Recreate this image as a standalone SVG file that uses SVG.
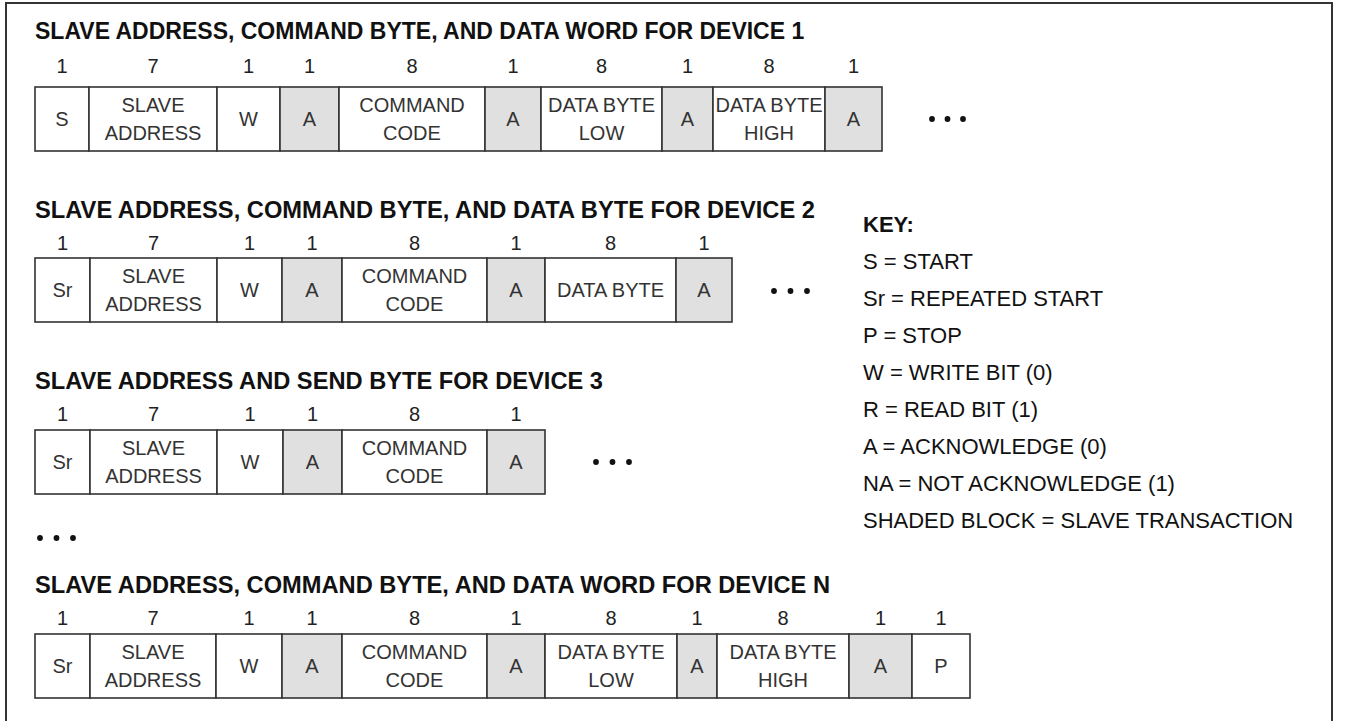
<svg xmlns="http://www.w3.org/2000/svg" width="1349" height="721" viewBox="0 0 1349 721">
<style>
.bg{fill:#ffffff}
.frame{fill:none;stroke:#333;stroke-width:2}
.cell{fill:#ffffff;stroke:#333;stroke-width:1.6}
.sh{fill:#e0e0e0;stroke:#333;stroke-width:1.6}
.t{font-family:"Liberation Sans",Arial,sans-serif;font-size:20px;fill:#333;text-anchor:middle}
.n{font-family:"Liberation Sans",Arial,sans-serif;font-size:20px;fill:#222;text-anchor:middle}
.h{font-family:"Liberation Sans",Arial,sans-serif;font-size:23px;font-weight:bold;fill:#111}
.k{font-family:"Liberation Sans",Arial,sans-serif;font-size:22px;fill:#111}
.kb{font-family:"Liberation Sans",Arial,sans-serif;font-size:22px;font-weight:bold;fill:#111}
.dot{fill:#111}
</style>
<rect class="bg" x="0" y="0" width="1349" height="721"/>
<path class="frame" d="M6,725 V3 H1332 V725"/>

<!-- Row 1 -->
<g id="row1">
<text class="h" x="35" y="39">SLAVE ADDRESS, COMMAND BYTE, AND DATA WORD FOR DEVICE 1</text>
<g id="r1-s"><rect class="cell" x="35" y="87" width="54" height="64"/><text class="n" x="62" y="73">1</text><text class="t" x="62" y="126">S</text></g>
<g id="r1-sa"><rect class="cell" x="89" y="87" width="128" height="64"/><text class="n" x="153" y="73">7</text><text class="t" x="153" y="112">SLAVE</text><text class="t" x="153" y="140">ADDRESS</text></g>
<g id="r1-w"><rect class="cell" x="217" y="87" width="63" height="64"/><text class="n" x="248.5" y="73">1</text><text class="t" x="248.5" y="126">W</text></g>
<g id="r1-a1"><rect class="sh" x="280" y="87" width="59" height="64"/><text class="n" x="309.5" y="73">1</text><text class="t" x="309.5" y="126">A</text></g>
<g id="r1-cc"><rect class="cell" x="339" y="87" width="146" height="64"/><text class="n" x="412" y="73">8</text><text class="t" x="412" y="112">COMMAND</text><text class="t" x="412" y="140">CODE</text></g>
<g id="r1-a2"><rect class="sh" x="485" y="87" width="56" height="64"/><text class="n" x="513" y="73">1</text><text class="t" x="513" y="126">A</text></g>
<g id="r1-dl"><rect class="cell" x="541" y="87" width="121" height="64"/><text class="n" x="601.5" y="73">8</text><text class="t" x="601.5" y="112">DATA BYTE</text><text class="t" x="601.5" y="140">LOW</text></g>
<g id="r1-a3"><rect class="sh" x="662" y="87" width="51" height="64"/><text class="n" x="687.5" y="73">1</text><text class="t" x="687.5" y="126">A</text></g>
<g id="r1-dh"><rect class="cell" x="713" y="87" width="112" height="64"/><text class="n" x="769" y="73">8</text><text class="t" x="769" y="112">DATA BYTE</text><text class="t" x="769" y="140">HIGH</text></g>
<g id="r1-a4"><rect class="sh" x="825" y="87" width="57" height="64"/><text class="n" x="853.5" y="73">1</text><text class="t" x="853.5" y="126">A</text></g>
<g id="r1-dots"><circle class="dot" cx="932" cy="119" r="2.9"/><circle class="dot" cx="947.5" cy="119" r="2.9"/><circle class="dot" cx="963" cy="119" r="2.9"/></g>
</g>

<!-- Row 2 -->
<g id="row2">
<text class="h" x="35" y="218" textLength="780" lengthAdjust="spacingAndGlyphs">SLAVE ADDRESS, COMMAND BYTE, AND DATA BYTE FOR DEVICE 2</text>
<g id="r2-sr"><rect class="cell" x="35" y="258" width="55" height="64"/><text class="n" x="62.5" y="250">1</text><text class="t" x="62.5" y="297">Sr</text></g>
<g id="r2-sa"><rect class="cell" x="90" y="258" width="127" height="64"/><text class="n" x="153.5" y="250">7</text><text class="t" x="153.5" y="283">SLAVE</text><text class="t" x="153.5" y="311">ADDRESS</text></g>
<g id="r2-w"><rect class="cell" x="217" y="258" width="65" height="64"/><text class="n" x="249.5" y="250">1</text><text class="t" x="249.5" y="297">W</text></g>
<g id="r2-a1"><rect class="sh" x="282" y="258" width="60" height="64"/><text class="n" x="312" y="250">1</text><text class="t" x="312" y="297">A</text></g>
<g id="r2-cc"><rect class="cell" x="342" y="258" width="145" height="64"/><text class="n" x="414.5" y="250">8</text><text class="t" x="414.5" y="283">COMMAND</text><text class="t" x="414.5" y="311">CODE</text></g>
<g id="r2-a2"><rect class="sh" x="487" y="258" width="58" height="64"/><text class="n" x="516" y="250">1</text><text class="t" x="516" y="297">A</text></g>
<g id="r2-db"><rect class="cell" x="545" y="258" width="131" height="64"/><text class="n" x="610.5" y="250">8</text><text class="t" x="610.5" y="297">DATA BYTE</text></g>
<g id="r2-a3"><rect class="sh" x="676" y="258" width="56" height="64"/><text class="n" x="704" y="250">1</text><text class="t" x="704" y="297">A</text></g>
<g id="r2-dots"><circle class="dot" cx="774" cy="291" r="2.9"/><circle class="dot" cx="790.5" cy="291" r="2.9"/><circle class="dot" cx="807" cy="291" r="2.9"/></g>
</g>

<!-- Row 3 -->
<g id="row3">
<text class="h" x="35" y="389" textLength="568" lengthAdjust="spacingAndGlyphs">SLAVE ADDRESS AND SEND BYTE FOR DEVICE 3</text>
<g id="r3-sr"><rect class="cell" x="35" y="430" width="55" height="64"/><text class="n" x="62.5" y="421">1</text><text class="t" x="62.5" y="469">Sr</text></g>
<g id="r3-sa"><rect class="cell" x="90" y="430" width="127" height="64"/><text class="n" x="153.5" y="421">7</text><text class="t" x="153.5" y="455">SLAVE</text><text class="t" x="153.5" y="483">ADDRESS</text></g>
<g id="r3-w"><rect class="cell" x="217" y="430" width="66" height="64"/><text class="n" x="250" y="421">1</text><text class="t" x="250" y="469">W</text></g>
<g id="r3-a1"><rect class="sh" x="283" y="430" width="59" height="64"/><text class="n" x="312.5" y="421">1</text><text class="t" x="312.5" y="469">A</text></g>
<g id="r3-cc"><rect class="cell" x="342" y="430" width="145" height="64"/><text class="n" x="414.5" y="421">8</text><text class="t" x="414.5" y="455">COMMAND</text><text class="t" x="414.5" y="483">CODE</text></g>
<g id="r3-a2"><rect class="sh" x="487" y="430" width="58" height="64"/><text class="n" x="516" y="421">1</text><text class="t" x="516" y="469">A</text></g>
<g id="r3-dots"><circle class="dot" cx="596" cy="462" r="2.9"/><circle class="dot" cx="612.5" cy="462" r="2.9"/><circle class="dot" cx="629" cy="462" r="2.9"/></g>
</g>

<g id="mid-dots"><circle class="dot" cx="40" cy="538" r="2.9"/><circle class="dot" cx="56.5" cy="538" r="2.9"/><circle class="dot" cx="73" cy="538" r="2.9"/></g>

<!-- Row N -->
<g id="rowN">
<text class="h" x="35" y="593" textLength="795" lengthAdjust="spacingAndGlyphs">SLAVE ADDRESS, COMMAND BYTE, AND DATA WORD FOR DEVICE N</text>
<g id="rn-sr"><rect class="cell" x="35" y="634" width="55" height="64"/><text class="n" x="62.5" y="625">1</text><text class="t" x="62.5" y="673">Sr</text></g>
<g id="rn-sa"><rect class="cell" x="90" y="634" width="126" height="64"/><text class="n" x="153" y="625">7</text><text class="t" x="153" y="659">SLAVE</text><text class="t" x="153" y="687">ADDRESS</text></g>
<g id="rn-w"><rect class="cell" x="216" y="634" width="66" height="64"/><text class="n" x="249" y="625">1</text><text class="t" x="249" y="673">W</text></g>
<g id="rn-a1"><rect class="sh" x="282" y="634" width="60" height="64"/><text class="n" x="312" y="625">1</text><text class="t" x="312" y="673">A</text></g>
<g id="rn-cc"><rect class="cell" x="342" y="634" width="145" height="64"/><text class="n" x="414.5" y="625">8</text><text class="t" x="414.5" y="659">COMMAND</text><text class="t" x="414.5" y="687">CODE</text></g>
<g id="rn-a2"><rect class="sh" x="487" y="634" width="58" height="64"/><text class="n" x="516" y="625">1</text><text class="t" x="516" y="673">A</text></g>
<g id="rn-dl"><rect class="cell" x="545" y="634" width="132" height="64"/><text class="n" x="611" y="625">8</text><text class="t" x="611" y="659">DATA BYTE</text><text class="t" x="611" y="687">LOW</text></g>
<g id="rn-a3"><rect class="sh" x="677" y="634" width="40" height="64"/><text class="n" x="697" y="625">1</text><text class="t" x="697" y="673">A</text></g>
<g id="rn-dh"><rect class="cell" x="717" y="634" width="132" height="64"/><text class="n" x="783" y="625">8</text><text class="t" x="783" y="659">DATA BYTE</text><text class="t" x="783" y="687">HIGH</text></g>
<g id="rn-a4"><rect class="sh" x="849" y="634" width="63" height="64"/><text class="n" x="880.5" y="625">1</text><text class="t" x="880.5" y="673">A</text></g>
<g id="rn-p"><rect class="cell" x="912" y="634" width="58" height="64"/><text class="n" x="941" y="625">1</text><text class="t" x="941" y="673">P</text></g>
</g>

<!-- Key -->
<g id="key">
<text class="kb" x="863" y="232">KEY:</text>
<text class="k" x="863" y="269">S = START</text>
<text class="k" x="863" y="306">Sr = REPEATED START</text>
<text class="k" x="863" y="343">P = STOP</text>
<text class="k" x="863" y="380">W = WRITE BIT (0)</text>
<text class="k" x="863" y="417">R = READ BIT (1)</text>
<text class="k" x="863" y="454">A = ACKNOWLEDGE (0)</text>
<text class="k" x="863" y="491">NA = NOT ACKNOWLEDGE (1)</text>
<text class="k" x="863" y="528">SHADED BLOCK = SLAVE TRANSACTION</text>
</g>
</svg>
